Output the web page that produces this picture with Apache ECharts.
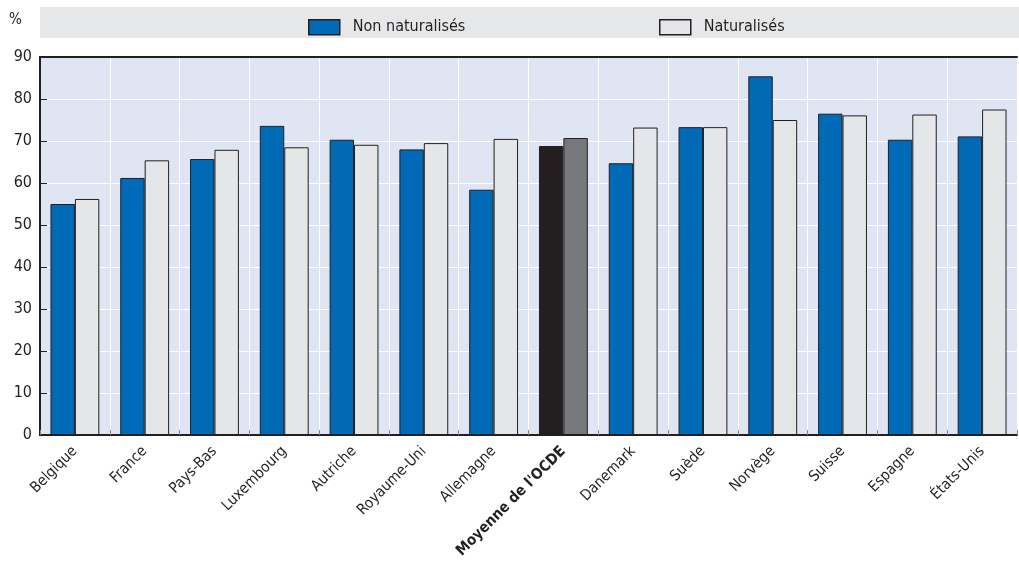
<!DOCTYPE html>
<html><head><meta charset="utf-8">
<script src="https://cdn.jsdelivr.net/npm/echarts@6/dist/echarts.min.js"></script>
<style>html,body{margin:0;padding:0;background:#fff}#c{width:1019px;height:562px}</style>
</head><body><div id="c"></div>
<script>
const categories = ['Belgique','France','Pays-Bas','Luxembourg','Autriche','Royaume-Uni','Allemagne',"Moyenne de l'OCDE",'Danemark','Suède','Norvège','Suisse','Espagne','États-Unis'];
const nonNaturalises = [55.0, 61.2, 65.7, 73.6, 70.3, 68.0, 58.4, 68.8, 64.7, 73.3, 85.4, 76.5, 70.3, 71.1];
const naturalises   = [56.2, 65.4, 67.9, 68.5, 69.1, 69.5, 70.5, 70.7, 73.2, 73.3, 75.0, 76.1, 76.3, 77.5];
const yTicks = [0,10,20,30,40,50,60,70,80,90];
const highlight = "Moyenne de l'OCDE";

const FONT = "'Liberation Sans Narrow','DejaVu Sans Condensed','Arial Narrow',sans-serif";
const BLUE = '#006ab7', LIGHT = '#e5e6e8', BLACK = '#231f20', GREY = '#77787b';

function mk(vals, color, hcolor){
  return vals.map((v,i)=>({value:v,itemStyle:{color: categories[i]===highlight ? hcolor : color}}));
}
const legendText = {fontFamily:FONT, fontSize:16, color:'#231f20', padding:[0,0,0,8]};
const chart = echarts.init(document.getElementById('c'), null, {renderer:'canvas'});
chart.setOption({
  animation:false,
  textStyle:{fontFamily:FONT},
  graphic:[
    {type:'rect', shape:{x:40,y:7,width:979,height:31}, style:{fill:'#e6e7e8'}, z:-1},
    {type:'text', left:9, top:13, style:{text:'%', font:'15px '+FONT, fill:'#231f20'}}
  ],
  legend:[{
    top:14, left:303, itemWidth:31, itemHeight:15, icon:'rect',
    textStyle:legendText,
    data:[{name:'Non naturalisés', itemStyle:{color:BLUE, borderColor:'#231f20', borderWidth:1.5}}]
  },{
    top:14, left:654, itemWidth:31, itemHeight:15, icon:'rect',
    textStyle:legendText,
    data:[{name:'Naturalisés', itemStyle:{color:LIGHT, borderColor:'#231f20', borderWidth:1.5}}]
  }],
  grid:{left:40, right:2, top:57, bottom:127, backgroundColor:'#dfe5f2', show:true, borderWidth:0},
  xAxis:[{
    type:'category', data:categories,
    axisLine:{lineStyle:{color:'#231f20', width:2}},
    axisTick:{show:true, inside:true, length:5, lineStyle:{color:'#888'}},
    splitLine:{show:true, lineStyle:{color:'#ffffff', width:1}},
    axisLabel:{rotate:45, fontFamily:FONT, fontSize:15, color:'#231f20', margin:14, interval:0,
      formatter:v=> v===highlight ? '{b|'+v+'}' : v,
      rich:{b:{fontWeight:'bold', fontFamily:FONT, fontSize:15, color:'#231f20'}}}
  },{
    type:'category', data:categories, position:'top',
    axisLine:{lineStyle:{color:'#231f20', width:2}},
    axisTick:{show:false}, axisLabel:{show:false}, splitLine:{show:false}
  }],
  yAxis:{
    type:'value', min:yTicks[0], max:yTicks[yTicks.length-1], interval:10,
    axisLine:{show:true, lineStyle:{color:'#231f20', width:2}},
    axisTick:{show:true, inside:true, length:7, lineStyle:{color:'#231f20'}},
    splitLine:{show:true, lineStyle:{color:'#ffffff', width:1}},
    axisLabel:{fontFamily:FONT, fontSize:16, color:'#231f20', margin:8}
  },
  series:[
    {name:'Non naturalisés', type:'bar', data:mk(nonNaturalises, BLUE, BLACK), barGap:'0%', barCategoryGap:'30%',
     itemStyle:{borderColor:'#231f20', borderWidth:1}},
    {name:'Naturalisés', type:'bar', data:mk(naturalises, LIGHT, GREY), barGap:'0%', barCategoryGap:'30%',
     itemStyle:{borderColor:'#231f20', borderWidth:1}}
  ]
});
</script></body></html>
